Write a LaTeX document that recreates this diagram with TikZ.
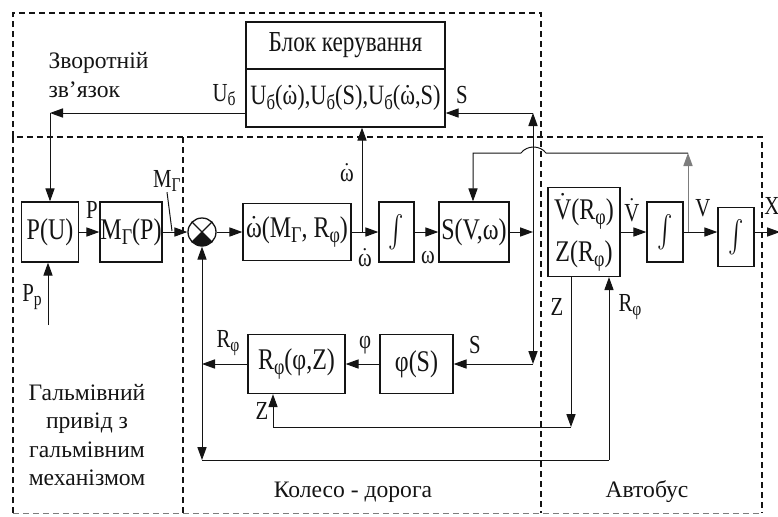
\documentclass[tikz,border=0pt]{standalone}
\usepackage{fontspec}
\setmainfont{Liberation Serif}
\newfontfamily\cond[FakeStretch=0.8]{Liberation Serif}
\usepackage{graphicx}
\usetikzlibrary{arrows.meta,positioning,calc}
\definecolor{ink}{RGB}{20,20,20}
\definecolor{soft}{RGB}{125,125,125}
\newcommand{\lo}[1]{\raisebox{-0.35ex}{\scalebox{0.75}{#1}}}
\newcommand{\dt}[1]{$\dot{\mbox{#1}}$}
\newcommand{\intg}{\scalebox{1.15}[1.6]{$\int$}}
\tikzset{
  every picture/.style={color=ink, line width=0.5pt},
  blk/.style={draw=ink, line width=0.65pt, inner sep=0pt, align=center, font=\cond\fontsize{15}{21}\selectfont},
  sz/.style 2 args={minimum width=#1*0.5pt, minimum height=#2*0.5pt},
  sumc/.style={circle, draw=ink, line width=0.65pt, minimum size=14pt, inner sep=0pt},
  flow/.style={-{Triangle[length=6.5pt,width=4.6pt]}, line width=0.5pt},
  zone/.style={dash pattern=on 3pt off 2pt, line width=0.75pt},
  sig/.style={font=\cond\fontsize{13}{14}\selectfont, inner sep=0pt},
  note/.style={font=\fontsize{11.8}{14.2}\selectfont, inner sep=0pt},
}

\begin{document}
\begin{tikzpicture}[x=0.5pt, y=-0.5pt]
  \useasboundingbox (0,0) rectangle (778,516);
  % zones
  \draw[zone] (13,137) -- (13,13) -- (541,13) -- (541,513);
  \draw[zone] (13,513) -- (13,137) -- (762,137) -- (762,513);
  \draw[zone] (183,137) -- (183,513);
  \draw[zone, soft, line width=0.5pt] (13,513) -- (762,513);
  % control block
  \node[blk, sz={199}{47}, font=\cond\fontsize{14.5}{16}\selectfont] (ctrl) at (345.5,45.5) {Блок керування};
  \node[blk, sz={199}{58}, font=\cond\fontsize{14}{16}\selectfont] (law) at (345.5,98) {U\lo{б}(\dt{ω}),U\lo{б}(S),U\lo{б}(\dt{ω},S)};
  % main row
  \node[blk, sz={57}{60}] (pu) at (50,232) {P(U)};
  \node[blk, sz={62}{60}] (mg) at (131,232) {M\lo{Г}(P)};
  \node[sumc] (sum) at (202,232) {};
  \begin{scope}
    \clip (sum.center) circle[radius=7pt];
    \fill (sum.center) -- ++(10pt,-10pt) -- ++(-20pt,0pt) -- cycle;
  \end{scope}
  \draw[line width=0.6pt] (sum.45) -- (sum.-135) (sum.135) -- (sum.-45);
  \node[blk, sz={108}{57}] (wd) at (297,232) {\dt{ω}(M\lo{Г}, R\lo{φ})};
  \node[blk, sz={35}{60}] (in1) at (396.5,232) {\intg};
  \node[blk, sz={70}{60}] (sv) at (474,232) {S(V,ω)};
  \node[blk, sz={72}{89}] (vz) at (584,232) {\dt{V}(R\lo{φ})\\Z(R\lo{φ})};
  \node[blk, sz={36}{60}] (in2) at (665,232) {\intg};
  \node[blk, sz={36}{59}] (in3) at (736,237) {\intg};
  % lower row
  \node[blk, sz={97}{59}] (rf) at (296.5,364) {R\lo{φ}(φ,Z)};
  \node[blk, sz={73}{59}] (ps) at (416.5,364) {φ(S)};
  % branch points
  \coordinate (ul) at (50,113);
  \coordinate (pp) at (48,325);
  \coordinate (mgp) at (172,231);
  \coordinate (wb) at (362,232);
  \coordinate (sb) at (533,232);
  \coordinate (st) at (533,113);
  \coordinate (sd) at (533,364);
  \coordinate (vb) at (688,232);
  \coordinate (vt) at (688,153);
  \coordinate (sl) at (473,153);
  \coordinate (xo) at (780,232);
  \coordinate (rj) at (202,364);
  \coordinate (rl) at (202,460);
  \coordinate (rr) at (609,460);
  \coordinate (zr) at (571,427);
  \coordinate (zl) at (273,427);
  % connectors
  \draw[flow] (law.west |- ul) -- (ul);
  \draw[flow] (ul) -- (pu);
  \draw[flow] (pp) -- (pp |- pu.south);
  \draw[flow] (pu) -- (mg);
  \draw[flow] (mg) -- (sum);
  \draw[flow] (sum) -- (wd);
  \draw[flow] (wd) -- (in1);
  \draw[flow] (wb) -- (wb |- law.south);
  \draw[flow] (in1) -- (sv);
  \draw[flow] (sv) -- (sb);
  \draw[flow] (sb) -- (st);
  \draw[flow] (st) -- (st -| law.east);
  \draw[flow] (sb) -- (sd);
  \draw[flow] (sd) -- (ps);
  \draw[flow] (ps) -- (rf);
  \draw[flow] (rf) -- (rj);
  \draw[flow] (rj) -- (sum);
  \draw[flow] (rj) -- (rl);
  \draw (rl) -- (rr);
  \draw[flow] (rr) -- (rr |- vz.south);
  \draw[flow] (zr |- vz.south) -- (zr);
  \draw (zr) -- (zl);
  \draw[flow] (zl) -- (zl |- rf.south);
  \draw[flow] (vz) -- (in2);
  \draw[flow] (in2) -- (in2 -| in3.west);
  \draw[flow, soft] (vb) -- (vt);
  \draw[flow] (vt) -- (546,153) .. controls (540,145) and (527,145) .. (521,153) -- (sl) -- (sl |- sv.north);
  \draw[flow] (in3.east |- xo) -- (xo);
  % signal labels
  \node[sig] (ubl) at (224,95) {U\lo{б}};
  \node[sig] (stl) at (462,95) {S};
  \node[sig] (wul) at (347,173) {\dt{ω}};
  \node[sig] (wdl) at (365,258) {\dt{ω}};
  \node[sig] (wl) at (428,258) {ω};
  \node[sig] (pl) at (92,210) {P};
  \node[sig] (mgl) at (167,181) {M\lo{Г}};
  \draw (mgl.south) -- (mgp);
  \node[sig] (ppl) at (32,297) {P\lo{p}};
  \node[sig] (vdl) at (632,210) {\dt{V}};
  \node[sig] (vl) at (703,208) {V};
  \node[sig] (xl) at (772,206) {X};
  \node[sig] (zul) at (557,307) {Z};
  \node[sig] (rul) at (630,307) {R\lo{φ}};
  \node[sig] (sdl) at (475,345) {S};
  \node[sig] (fl) at (365,345) {φ};
  \node[sig] (rdl) at (228,343) {R\lo{φ}};
  \node[sig] (zdl) at (262,411) {Z};
  % zone titles
  \node[note, anchor=north west, align=left] (fb) at (48,52) {Зворотній\\зв’язок};
  \node[note, align=center] (brake) at (87,435) {Гальмівний\\привід з\\гальмівним\\механізмом};
  \node[note] (wheel) at (353,492) {Колесо - дорога};
  \node[note] (bus) at (647,492) {Автобус};
\end{tikzpicture}
\end{document}
